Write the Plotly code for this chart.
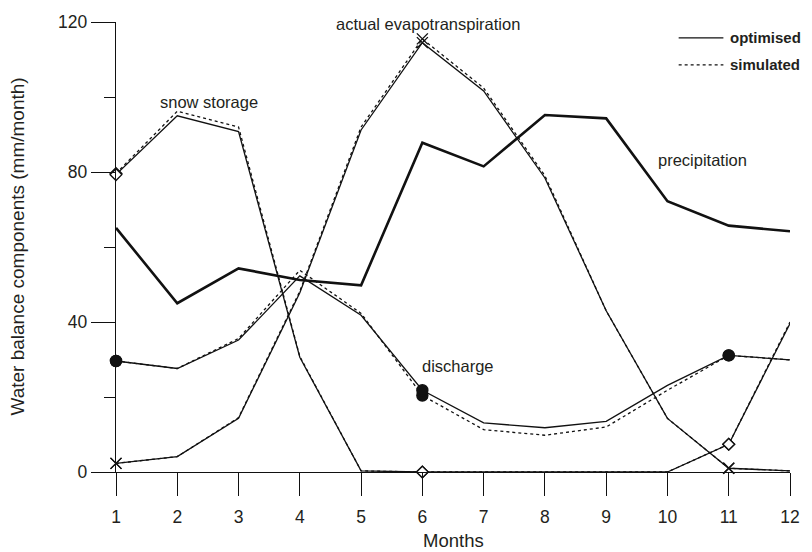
import plotly.graph_objects as go

# ---------------- data ----------------
months = list(range(1, 13))
month_labels = [str(m) for m in months]

precipitation = [65.1, 45.0, 54.3, 51.2, 49.8, 87.8, 81.5, 95.2, 94.3, 72.2, 65.7, 64.2]

snow_opt = [79.3, 95.0, 90.8, 30.6, 0.3, 0.0, 0.0, 0.0, 0.0, 0.0, 7.4, 39.6]
snow_sim = [79.6, 96.2, 92.0, 30.8, 0.3, 0.0, 0.0, 0.0, 0.0, 0.0, 7.4, 40.0]

et_opt = [2.3, 4.1, 14.3, 47.8, 91.2, 114.5, 101.6, 78.4, 43.0, 14.3, 1.0, 0.3]
et_sim = [2.3, 4.1, 14.5, 48.2, 92.0, 115.5, 102.4, 79.0, 43.0, 14.3, 1.0, 0.3]

discharge_opt = [29.6, 27.6, 35.2, 52.3, 41.8, 21.8, 13.1, 11.8, 13.5, 23.1, 31.1, 29.9]
discharge_sim = [29.6, 27.6, 35.6, 53.8, 42.3, 20.4, 11.3, 9.8, 12.0, 21.8, 31.1, 29.9]

marker_months = [1, 6, 11]

y_ticks = [0, 40, 80, 120]

# ---------------- layout helpers (pixel -> paper) ----------------
W, H = 812, 552
L, R, T, B = 116, 18, 20, 80
PW, PH = W - L - R, H - T - B


def px(x):
    return (x - L) / PW


def py(y):
    return (H - B - y) / PH


FONT = "Liberation Sans, Arial, sans-serif"
TXT = "#231f20"
LINE = "#111111"

fig = go.Figure()


def add_line(vals, dash, width=1.3):
    fig.add_trace(go.Scatter(
        x=months, y=vals, mode="lines",
        line=dict(color=LINE, width=width, dash=dash),
        showlegend=False, cliponaxis=False, hoverinfo="skip"))


def add_markers(vals, symbol, size, filled):
    xs = [m for m in marker_months]
    ys = [vals[m - 1] for m in marker_months]
    fig.add_trace(go.Scatter(
        x=xs, y=ys, mode="markers",
        marker=dict(symbol=symbol, size=size,
                    color=LINE if filled else "white",
                    line=dict(color=LINE, width=1.4)),
        showlegend=False, cliponaxis=False, hoverinfo="skip"))


# precipitation
add_line(precipitation, "solid", width=2.6)

# snow storage
add_line(snow_sim, "dot")
add_line(snow_opt, "solid")
# actual evapotranspiration
add_line(et_sim, "dot")
add_line(et_opt, "solid")
# discharge
add_line(discharge_sim, "dot")
add_line(discharge_opt, "solid")

add_markers(snow_sim, "diamond", 9, False)
add_markers(snow_opt, "diamond", 9, False)
add_markers(discharge_sim, "circle", 11, True)
add_markers(discharge_opt, "circle", 11, True)
add_markers(et_sim, "x-thin", 11, False)
add_markers(et_opt, "x-thin", 11, False)

annotations = [
    dict(text="snow storage", x=px(210), y=py(100)),
    dict(text="actual evapotranspiration", x=px(430), y=py(22)),
    dict(text="precipitation", x=px(706), y=py(159)),
    dict(text="discharge", x=px(460), y=py(366)),
]
ann = []
for a in annotations:
    ann.append(dict(text=a["text"], x=a["x"], y=a["y"], xref="paper", yref="paper",
                    showarrow=False, xanchor="center", yanchor="middle",
                    font=dict(family=FONT, size=16.5, color=TXT)))

# legend (drawn manually)
legend_items = [("optimised", "solid", 36), ("simulated", "dot", 63)]
shapes = []
for label, dash, yy in legend_items:
    shapes.append(dict(type="line", xref="paper", yref="paper",
                       x0=px(682), x1=px(727), y0=py(yy), y1=py(yy),
                       line=dict(color=LINE, width=1.3, dash=dash)))
    ann.append(dict(text="<b>" + label + "</b>", x=px(732), y=py(yy),
                    xref="paper", yref="paper", showarrow=False,
                    xanchor="left", yanchor="middle",
                    font=dict(family=FONT, size=15, color=TXT)))

# axis titles
ann.append(dict(text="Months", x=0.5, y=py(541), xref="paper", yref="paper",
                showarrow=False, xanchor="center", yanchor="middle",
                font=dict(family=FONT, size=18.5, color=TXT)))
ann.append(dict(text="Water balance components (mm/month)", x=px(16), y=0.5,
                xref="paper", yref="paper", showarrow=False, textangle=-90,
                xanchor="center", yanchor="middle",
                font=dict(family=FONT, size=19, color=TXT)))

fig.update_layout(
    width=W, height=H,
    margin=dict(l=L, r=R, t=T, b=B),
    paper_bgcolor="white", plot_bgcolor="white",
    showlegend=False,
    annotations=ann, shapes=shapes,
    xaxis=dict(range=[1, 12], tickvals=months, ticktext=month_labels,
               ticks="outside", ticklen=23, tickwidth=1.4, tickcolor=LINE,
               ticklabelstandoff=6,
               showline=True, linecolor=LINE, linewidth=1.4,
               showgrid=False, zeroline=False,
               tickfont=dict(family=FONT, size=17.5, color=TXT)),
    yaxis=dict(range=[0, 120], tickvals=y_ticks,
               ticks="outside", ticklen=24, tickwidth=1.4, tickcolor=LINE,
               minor=dict(dtick=20, tick0=0, ticklen=11, tickwidth=1.4,
                          tickcolor=LINE, ticks="outside"),
               showline=True, linecolor=LINE, linewidth=1.4,
               showgrid=False, zeroline=False,
               tickfont=dict(family=FONT, size=17.5, color=TXT)),
)

fig.write_html("out.html",
               config={"displayModeBar": False},
               post_script="document.body.style.margin='0';document.body.style.overflow='hidden';")
